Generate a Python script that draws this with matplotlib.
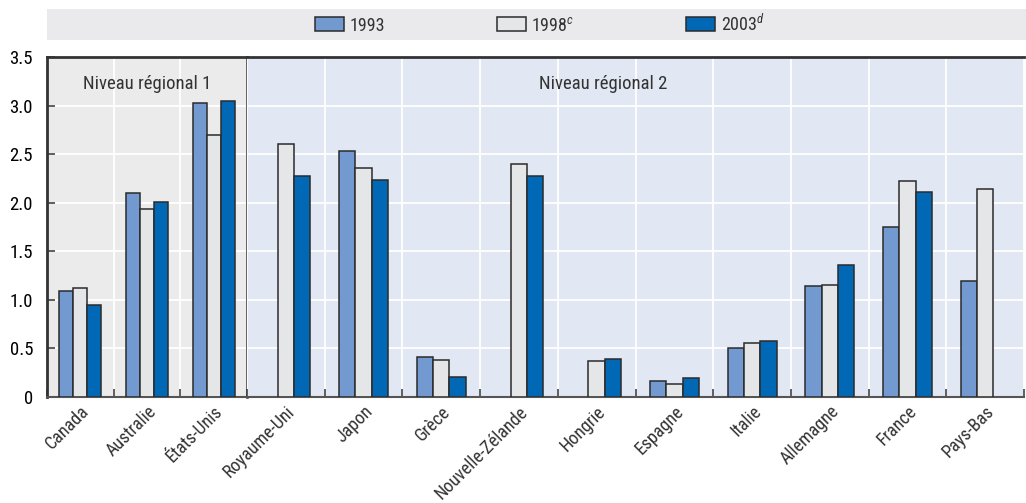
import matplotlib.pyplot as plt
import matplotlib.patches as patches
from matplotlib import font_manager
import numpy as np

# Data
categories = ['Canada', 'Australie', 'États-Unis', 'Royaume-Uni', 'Japon', 'Grèce',
              'Nouvelle-Zélande', 'Hongrie', 'Espagne', 'Italie', 'Allemagne',
              'France', 'Pays-Bas']
v1993 = [1.09, 2.10, 3.03, np.nan, 2.53, 0.41, np.nan, np.nan, 0.16, 0.50, 1.14, 1.75, 1.19]
v1998 = [1.12, 1.94, 2.70, 2.60, 2.36, 0.38, 2.40, 0.37, 0.13, 0.56, 1.15, 2.22, 2.14]
v2003 = [0.95, 2.01, 3.05, 2.28, 2.23, 0.21, 2.28, 0.39, 0.20, 0.58, 1.36, 2.11, np.nan]
series_labels = ['1993', '1998$^{c}$', '2003$^{d}$']
n_level1 = 3
region_titles = ['Niveau régional 1', 'Niveau régional 2']
yticks = [0, 0.5, 1.0, 1.5, 2.0, 2.5, 3.0, 3.5]
ytick_labels = ['0', '0.5', '1.0', '1.5', '2.0', '2.5', '3.0', '3.5']

colors = ['#7299d0', '#e5e6e8', '#0068b5']
bg_colors = ['#ebebeb', '#e1e7f3']
edge = '#2b2b2b'
txt = '#333333'

# pick a narrow font if one is there
available = {f.name for f in font_manager.fontManager.ttflist}
fam = 'Liberation Sans'
for cand in ['Liberation Sans Narrow', 'DejaVu Sans Condensed', 'Roboto Condensed',
             'Open Sans Condensed']:
    if cand in available:
        fam = cand
        break
narrow = fam != 'Liberation Sans'
fs = 12.5 if narrow else 10.5
plt.rcParams['font.family'] = [fam, 'DejaVu Sans']
plt.rcParams['font.size'] = fs
plt.rcParams['text.color'] = txt
plt.rcParams['mathtext.fontset'] = 'custom'
plt.rcParams['mathtext.it'] = fam + ':italic'
plt.rcParams['mathtext.rm'] = fam

W, H = 1026, 503
fig = plt.figure(figsize=(W / 100, H / 100), dpi=100)

left_px, split_px, right_px = 47, 247, 1024
top_px, bottom_px = 57, 397
b = 1 - bottom_px / H
h = (bottom_px - top_px) / H
ax1 = fig.add_axes([left_px / W, b, (split_px - left_px) / W, h])
ax2 = fig.add_axes([split_px / W, b, (right_px - split_px) / W, h], sharey=ax1)

series = [v1993, v1998, v2003]
bw = 0.21
groups = [(ax1, 0, n_level1), (ax2, n_level1, len(categories))]
for k, (ax, i0, i1) in enumerate(groups):
    n = i1 - i0
    x = np.arange(n)
    ax.set_facecolor(bg_colors[k])
    for j, vals in enumerate(series):
        ax.bar(x + (j - 1) * bw, vals[i0:i1], width=bw, color=colors[j],
               edgecolor=edge, linewidth=1.1, zorder=3, label=series_labels[j])
    ax.set_xlim(-0.5, n - 0.5)
    ax.set_ylim(0, 3.5)
    ax.set_xticks(x)
    ax.set_xticklabels(categories[i0:i1], rotation=45, ha='right',
                       rotation_mode='anchor', color=txt, fontsize=fs + 0.5)
    ax.tick_params(axis='x', which='major', length=0, pad=4)
    ax.set_xticks(np.arange(n + 1) - 0.5, minor=True)
    ax.tick_params(axis='x', which='minor', direction='in', length=6,
                   width=1.2, color='#444444')
    ax.grid(True, which='minor', axis='x', color='white', linewidth=1.3, zorder=1)
    ax.grid(True, which='major', axis='y', color='white', linewidth=1.3, zorder=1)
    ax.set_axisbelow(True)
    for s in ['left', 'right']:
        ax.spines[s].set_visible(False)
    ax.spines['top'].set_linewidth(2)
    ax.spines['top'].set_color('#333333')
    ax.spines['bottom'].set_linewidth(1.5)
    ax.spines['bottom'].set_color('#555555')

ax1.spines['left'].set_visible(True)
ax1.spines['left'].set_linewidth(2)
ax1.spines['left'].set_color('#333333')
ax1.spines['right'].set_visible(True)
ax1.spines['right'].set_linewidth(1.8)
ax1.spines['right'].set_color('#333333')
ax1.set_yticks(yticks)
ax1.set_yticklabels(ytick_labels)
ax1.tick_params(axis='y', direction='in', length=6, width=1.2, color='#444444',
                labelsize=fs + 1, pad=10)
ax2.tick_params(axis='y', left=False, labelleft=False)

ax1.text(0.5, 0.92, region_titles[0], transform=ax1.transAxes, ha='center', va='center',
         fontsize=fs + 1)
ax2.text(0.458, 0.92, region_titles[1], transform=ax2.transAxes, ha='center', va='center',
         fontsize=fs + 1)

# legend band
fig.patches.append(patches.Rectangle((left_px / W, 1 - 40 / H), 1 - left_px / W, 31 / H,
                                     transform=fig.transFigure, facecolor='#eaeaec',
                                     edgecolor='none', zorder=0))
handles, labels = ax1.get_legend_handles_labels()
fig.legend(handles, labels, loc='center', bbox_to_anchor=(540 / W, 1 - 24 / H),
           ncol=3, frameon=False, handlelength=1.6, handleheight=0.8,
           columnspacing=6.2, handletextpad=0.3, fontsize=fs + 0.5)

plt.savefig('out.png', dpi=100)
